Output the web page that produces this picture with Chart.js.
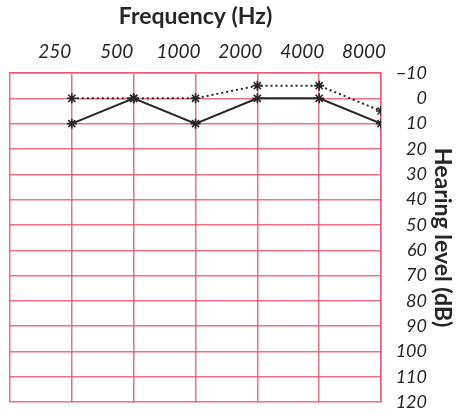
<!DOCTYPE html>
<html>
<head>
<meta charset="utf-8">
<script src="https://cdn.jsdelivr.net/npm/chart.js@4/dist/chart.umd.min.js"></script>
<style>
  html, body { margin: 0; padding: 0; background: #fff; }
</style>
</head>
<body>
<canvas id="audiogram" width="456" height="418"></canvas>
<script>
	'use strict'
	// frequencies along the top, hearing level down the side
	var freqLabels = ['250', '500', '1000', '2000', '4000', '8000'];
	var freqPos = [1, 2, 3, 4, 5, 6];
	var solidLevels = [10, 0, 10, 0, 0, 10];
	var dottedLevels = [0, 0, 0, -5, -5, 5];
	var levelTicks = [-10, 0, 10, 20, 30, 40, 50, 60, 70, 80, 90, 100, 110, 120];

	var gridPink = 'rgba(236, 86, 112, 0.85)';
	var ink = '#262626';
	var hand = "'Lato', 'DejaVu Sans', sans-serif";

	function toPoints(levels) {
		return freqPos.map(function(x, i) {
			return { x: x, y: levels[i] };
		});
	}

	var ctx = document.getElementById('audiogram');
	var myChart = new Chart(ctx, {
		type: 'line',
		data: {
			datasets: [{
				label: 'solid',
				data: toPoints(solidLevels),
				borderColor: ink,
				borderWidth: 2,
				pointStyle: 'star',
				pointRadius: 5,
				pointBorderWidth: 1.6,
				pointBorderColor: ink,
				pointBackgroundColor: ink,
				tension: 0
			}, {
				label: 'dotted',
				data: toPoints(dottedLevels),
				borderColor: ink,
				borderWidth: 2,
				borderDash: [2, 3],
				pointStyle: 'star',
				pointRadius: 5,
				pointBorderWidth: 1.6,
				pointBorderColor: ink,
				pointBackgroundColor: ink,
				tension: 0
			}]
		},
		options: {
			responsive: false,
			animation: false,
			layout: { padding: { left: 10, right: 0, top: 0, bottom: 7 } },
			plugins: {
				legend: { display: false },
				tooltip: { enabled: false }
			},
			scales: {
				x: {
					type: 'linear',
					position: 'top',
					min: 0,
					max: 6,
					afterBuildTicks: function(s) {
						s.ticks = [0].concat(freqPos).map(function(v) { return { value: v }; });
					},
					afterFit: function(s) { s.height = 73; },
					grid: { color: gridPink, lineWidth: 1.5, drawTicks: false },
					border: { color: gridPink, width: 1.5 },
					ticks: {
						autoSkip: false,
						padding: 10,
						labelOffset: -17,
						maxRotation: 0,
						color: ink,
						font: { family: hand, size: 19, style: 'italic' },
						callback: function(v) {
							var i = freqPos.indexOf(v);
							return i < 0 ? '' : freqLabels[i];
						}
					},
					title: {
						display: true,
						text: 'Frequency (Hz)',
						color: ink,
						font: { family: hand, size: 23, weight: 'bold' },
						padding: { top: 3, bottom: 0 }
					}
				},
				y: {
					type: 'linear',
					position: 'right',
					reverse: true,
					min: -10,
					max: 120,
					afterBuildTicks: function(s) {
						s.ticks = levelTicks.map(function(v) { return { value: v }; });
					},
					afterFit: function(s) { s.width = 46; },
					grid: { color: gridPink, lineWidth: 1.5, drawTicks: false },
					border: { color: gridPink, width: 1.5 },
					ticks: {
						autoSkip: false,
						padding: 5,
						crossAlign: 'far',
						color: ink,
						font: { family: hand, size: 18, style: 'italic' },
						callback: function(v) {
							return v < 0 ? '\u2212' + Math.abs(v) : String(v);
						}
					},
					title: { display: false }
				},
				// outer right axis only carries the rotated title
				yTitle: {
					type: 'linear',
					position: 'right',
					afterFit: function(s) { s.width = 29; },
					grid: { display: false, drawTicks: false },
					border: { display: false },
					ticks: { display: false },
					title: {
						display: true,
						text: 'Hearing level (dB)',
						color: ink,
						font: { family: hand, size: 23, weight: 'bold' },
						padding: 0
					}
				}
			}
		}
	});
</script>
</body>
</html>
